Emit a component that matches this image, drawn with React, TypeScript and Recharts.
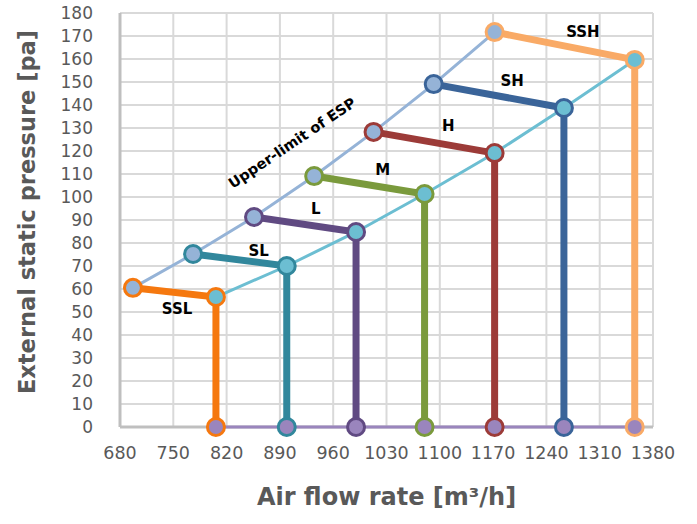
import React from 'react';
import { ScatterChart, Scatter, XAxis, YAxis, CartesianGrid, Label } from 'recharts';

// ---- data ----
const xTicks = [680, 750, 820, 890, 960, 1030, 1100, 1170, 1240, 1310, 1380];
const yTicks = [0, 10, 20, 30, 40, 50, 60, 70, 80, 90, 100, 110, 120, 130, 140, 150, 160, 170, 180];

const levelNames = ['SSL', 'SL', 'L', 'M', 'H', 'SH', 'SSH'];
// upper-limit (left) point of each fan level
const upperFlow = [697, 776, 856, 935, 1013, 1092, 1172];
const upperPressure = [60.5, 75.2, 91.3, 109.1, 128.3, 149.1, 171.7];
// lower (right) point of each fan level
const lowerFlow = [806, 899, 990, 1080, 1172, 1263, 1356];
const lowerPressure = [56.5, 70, 84.8, 101.3, 119.1, 138.7, 159.6];
const basePressure = 0;

// annotation anchors (data units)
const labelFlow = [755, 862, 937, 1025, 1111, 1195, 1288];
const labelPressure = [51.3, 76.5, 94.8, 111.7, 130.9, 150.4, 171.7];
const espText = 'Upper-limit of ESP';
const espFlow = 906;
const espPressure = 123.5;

// ---- styles ----
const levelColors = ['#F5780F', '#31879C', '#604A82', '#7A9A3C', '#9C3B38', '#3A6499', '#F9AA66'];
const upperColor = '#95B3D7';
const lowerColor = '#6CBED2';
const baseColor = '#9A85BD';
const FONT = '"DejaVu Sans", "Open Sans", sans-serif';

// ---- derived tables ----
const levelLines = levelNames.map((name, i) => ({
  name,
  color: levelColors[i],
  data: [
    { x: upperFlow[i], y: upperPressure[i] },
    { x: lowerFlow[i], y: lowerPressure[i] },
    { x: lowerFlow[i], y: basePressure },
  ],
}));
const upperLine = upperFlow.map((x, i) => ({ x, y: upperPressure[i] }));
const lowerLine = lowerFlow.map((x, i) => ({ x, y: lowerPressure[i] }));
const baseLine = [
  { x: lowerFlow[0], y: basePressure },
  { x: lowerFlow[lowerFlow.length - 1], y: basePressure },
];
const markers = levelNames.flatMap((_, i) => [
  { x: upperFlow[i], y: upperPressure[i], fillColor: upperColor, strokeColor: levelColors[i] },
  { x: lowerFlow[i], y: lowerPressure[i], fillColor: lowerColor, strokeColor: levelColors[i] },
  { x: lowerFlow[i], y: basePressure, fillColor: baseColor, strokeColor: levelColors[i] },
]);
const labels = [
  ...levelNames.map((text, i) => ({ x: labelFlow[i], y: labelPressure[i], text, angle: 0 })),
  { x: espFlow, y: espPressure, text: espText, angle: -34 },
];

const Empty = () => <g />;

const MarkerShape = (props: any) => {
  const { cx, cy, payload } = props;
  return (
    <circle cx={cx} cy={cy} r={8.5} fill={payload.fillColor} stroke={payload.strokeColor} strokeWidth={3} />
  );
};

const TextShape = (props: any) => {
  const { cx, cy, payload } = props;
  return (
    <text
      x={cx}
      y={cy}
      textAnchor="middle"
      dominantBaseline="central"
      fontFamily={FONT}
      fontWeight="bold"
      fontSize={payload.angle ? 14.5 : 15}
      fill="#000"
      transform={payload.angle ? `rotate(${payload.angle} ${cx} ${cy})` : undefined}
    >
      {payload.text}
    </text>
  );
};

const YTitle = (props: any) => {
  const { viewBox } = props;
  const cx = 27;
  const cy = viewBox.y + viewBox.height / 2 - 8;
  return (
    <text
      x={cx}
      y={cy}
      textAnchor="middle"
      dominantBaseline="central"
      transform={`rotate(-90 ${cx} ${cy})`}
      fontFamily={FONT}
      fontWeight="bold"
      fontSize={22.5}
      fill="#595959"
    >
      External static pressure [pa]
    </text>
  );
};

const XTitle = (props: any) => {
  const { viewBox } = props;
  const cx = viewBox.x + viewBox.width / 2;
  return (
    <text
      x={cx}
      y={497}
      textAnchor="middle"
      dominantBaseline="central"
      fontFamily={FONT}
      fontWeight="bold"
      fontSize={24}
      fill="#595959"
    >
      Air flow rate [m³/h]
    </text>
  );
};

export default function App() {
  return (
    <div style={{ position: 'absolute', left: 0, top: 0, width: 697, height: 524, background: '#fff', fontFamily: FONT }}>
      <ScatterChart width={697} height={524} margin={{ top: 13, right: 44, bottom: 0, left: 0 }}>
        <CartesianGrid stroke="#D9D9D9" strokeWidth={2} />
        <XAxis
          type="number"
          dataKey="x"
          domain={[680, 1380]}
          ticks={xTicks}
          interval={0}
          height={97}
          tickLine={false}
          axisLine={{ stroke: '#BFBFBF', strokeWidth: 3 }}
          tickMargin={14}
          tick={{ fill: '#595959', fontSize: 17.5, fontFamily: FONT }}
        >
          <Label content={<XTitle />} />
        </XAxis>
        <YAxis
          type="number"
          dataKey="y"
          domain={[0, 180]}
          ticks={yTicks}
          interval={0}
          width={120}
          tickLine={false}
          axisLine={{ stroke: '#BFBFBF', strokeWidth: 3 }}
          tickMargin={21}
          tick={{ fill: '#595959', fontSize: 17, fontFamily: FONT }}
        >
          <Label content={<YTitle />} />
        </YAxis>
        {levelLines.map((s) => (
          <Scatter
            key={s.name}
            name={s.name}
            data={s.data}
            line={{ stroke: s.color, strokeWidth: 7 }}
            shape={<Empty />}
            isAnimationActive={false}
          />
        ))}
        <Scatter name="upper" data={upperLine} line={{ stroke: upperColor, strokeWidth: 3 }} shape={<Empty />} isAnimationActive={false} />
        <Scatter name="lower" data={lowerLine} line={{ stroke: lowerColor, strokeWidth: 3 }} shape={<Empty />} isAnimationActive={false} />
        <Scatter name="base" data={baseLine} line={{ stroke: baseColor, strokeWidth: 3 }} shape={<Empty />} isAnimationActive={false} />
        <Scatter name="markers" data={markers} shape={<MarkerShape />} isAnimationActive={false} />
        <Scatter name="labels" data={labels} shape={<TextShape />} isAnimationActive={false} />
      </ScatterChart>
    </div>
  );
}
